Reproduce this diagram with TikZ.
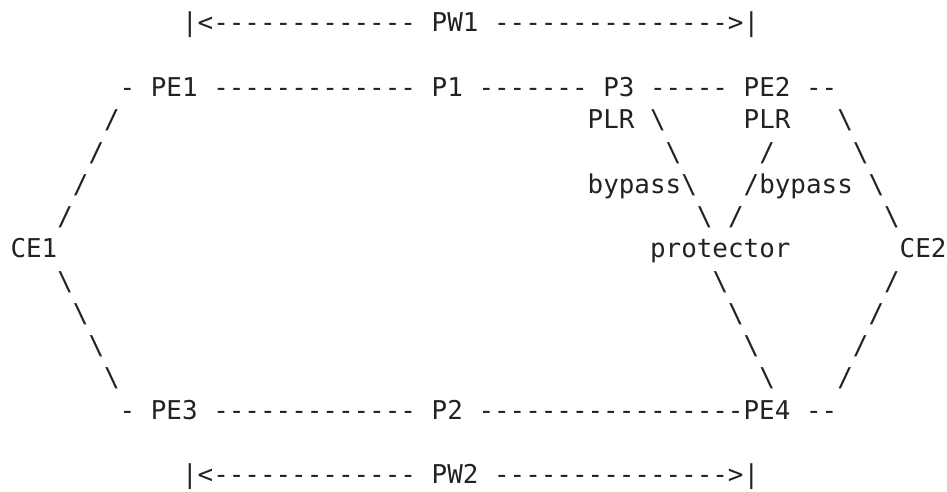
\documentclass[tikz,border=0pt]{standalone}
\usepackage{fontspec}
\setmonofont{DejaVu Sans Mono}
\definecolor{ink}{RGB}{34,34,34}
\newcommand{\tk}[4]{\node[tok] (#1) at ({10.5+#3*15.6},{459-#2*32.25}) {#4};}
\newcommand{\bs}{\textbackslash}
\begin{document}
\begin{tikzpicture}[x=1pt,y=1pt,
  tok/.style={anchor=base west, inner sep=0pt, outer sep=0pt, text=ink,
              font=\ttfamily\fontsize{25.9}{31}\selectfont}]
\useasboundingbox (0,0) rectangle (947,491);
% row 0
\tk{pwa}{0}{11}{|<-------------}
\tk{pw1}{0}{27}{PW1}
\tk{pwb}{0}{31}{--------------->|}
% row 2
\tk{ta}{2}{7}{-}
\tk{pe1}{2}{9}{PE1}
\tk{tb}{2}{13}{-------------}
\tk{p1}{2}{27}{P1}
\tk{tc}{2}{30}{-------}
\tk{p3}{2}{38}{P3}
\tk{td}{2}{41}{-----}
\tk{pe2}{2}{47}{PE2}
\tk{te}{2}{51}{--}
% row 3
\tk{la3}{3}{6}{/}
\tk{plra}{3}{37}{PLR}
\tk{ia3}{3}{41}{\bs}
\tk{plrb}{3}{47}{PLR}
\tk{ra3}{3}{53}{\bs}
% row 4
\tk{la4}{4}{5}{/}
\tk{ia4}{4}{42}{\bs}
\tk{ib4}{4}{48}{/}
\tk{ra4}{4}{54}{\bs}
% row 5
\tk{la5}{5}{4}{/}
\tk{bya}{5}{37}{bypass\bs}
\tk{byb}{5}{47}{/bypass}
\tk{ra5}{5}{55}{\bs}
% row 6
\tk{la6}{6}{3}{/}
\tk{ia6}{6}{44}{\bs}
\tk{ib6}{6}{46}{/}
\tk{ra6}{6}{56}{\bs}
% row 7
\tk{ce1}{7}{0}{CE1}
\tk{prot}{7}{41}{protector}
\tk{ce2}{7}{57}{CE2}
% rows 8-11
\tk{la8}{8}{3}{\bs}
\tk{ia8}{8}{45}{\bs}
\tk{ra8}{8}{56}{/}
\tk{la9}{9}{4}{\bs}
\tk{ia9}{9}{46}{\bs}
\tk{ra9}{9}{55}{/}
\tk{la10}{10}{5}{\bs}
\tk{ia10}{10}{47}{\bs}
\tk{ra10}{10}{54}{/}
\tk{la11}{11}{6}{\bs}
\tk{ia11}{11}{48}{\bs}
\tk{ra11}{11}{53}{/}
% row 12
\tk{ba}{12}{7}{-}
\tk{pe3}{12}{9}{PE3}
\tk{bb}{12}{13}{-------------}
\tk{p2}{12}{27}{P2}
\tk{pe4}{12}{30}{-----------------PE4}
\tk{bc}{12}{51}{--}
% row 14
\tk{pwc}{14}{11}{|<-------------}
\tk{pw2}{14}{27}{PW2}
\tk{pwd}{14}{31}{--------------->|}
\end{tikzpicture}
\end{document}
